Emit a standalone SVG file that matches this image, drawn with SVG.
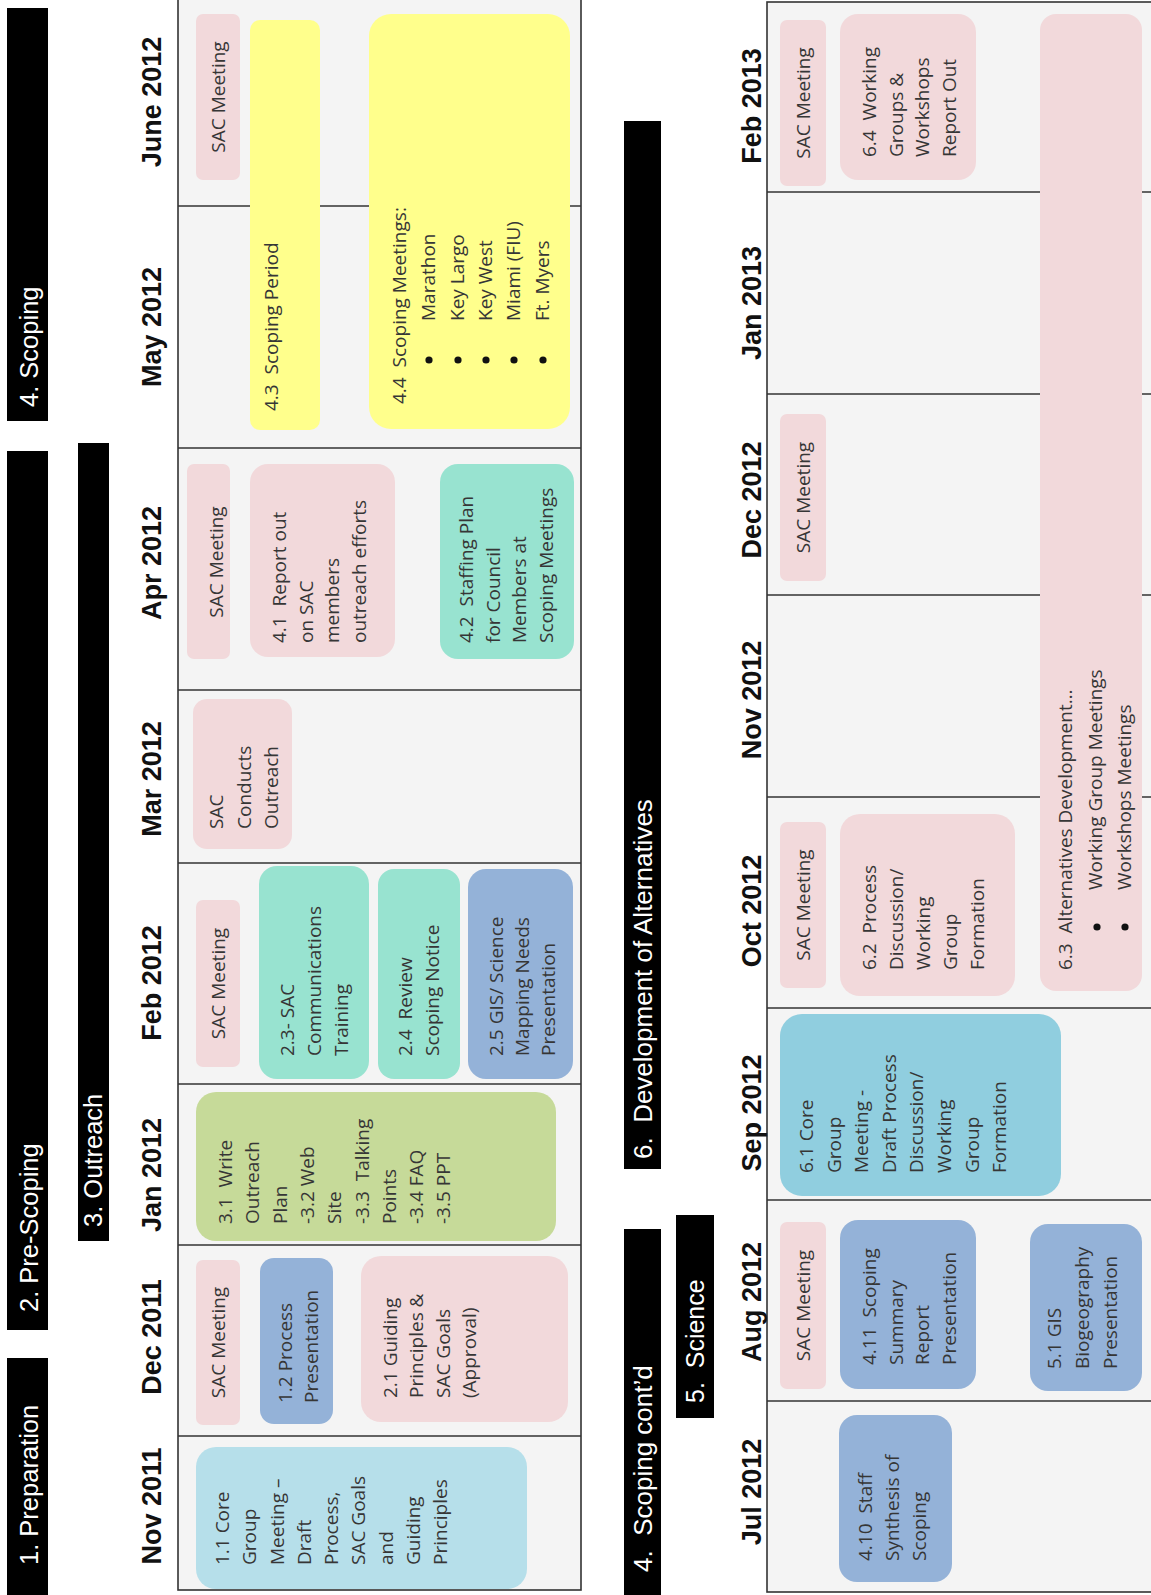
<svg xmlns="http://www.w3.org/2000/svg" width="1151" height="1595" viewBox="0 0 1151 1595">
<defs>
<style>
.cell{fill:#f4f4f4;stroke:#333;stroke-width:1.6}
.grid{stroke:#333;stroke-width:1.6;fill:none}
.bar{fill:#000}
.bt{font-family:"Liberation Sans",Arial,sans-serif;font-size:25.5px;fill:#fff}
.mo{font-family:"Liberation Sans",Arial,sans-serif;font-weight:bold;font-size:27px;fill:#111;text-anchor:middle}
.t{font-family:"Open Sans","Noto Sans",sans-serif;font-size:19px;fill:#363636}
.c{text-anchor:middle}
.dot{fill:#111}
.pink{fill:#f2d9db}
.yel{fill:#ffff8c}
.mint{fill:#98e3d0}
.olive{fill:#c6da99}
.blue{fill:#94b2d8}
.lblue{fill:#b6dfea}
.teal{fill:#90cedf}
</style>
<clipPath id="clip63" clipPathUnits="userSpaceOnUse"><rect x="600" y="1030" width="990" height="106"/></clipPath>
</defs>
<rect width="1151" height="1595" fill="#fff"/>
<g transform="translate(0,1595) rotate(-90)">
  <g id="tables">
    <rect class="cell" x="5" y="178" width="1591" height="403"/>
    <path class="grid" d="M159 178V581M350 178V581M511 178V581M732 178V581M905 178V581M1147 178V581M1389 178V581"/>
    <rect class="cell" x="3" y="767" width="1590" height="400"/>
    <path class="grid" d="M194 767V1160M395 767V1160M587 767V1160M798 767V1160M1000 767V1160M1201 767V1160M1403 767V1160"/>
  </g>
  <g id="months">
    <text class="mo" x="89" y="161">Nov 2011</text>
    <text class="mo" x="258" y="161">Dec 2011</text>
    <text class="mo" x="420" y="161">Jan 2012</text>
    <text class="mo" x="612" y="161">Feb 2012</text>
    <text class="mo" x="816" y="161">Mar 2012</text>
    <text class="mo" x="1032" y="161">Apr 2012</text>
    <text class="mo" x="1268" y="161">May 2012</text>
    <text class="mo" x="1493" y="161">June 2012</text>
    <text class="mo" x="103" y="761">Jul 2012</text>
    <text class="mo" x="293" y="761">Aug 2012</text>
    <text class="mo" x="482" y="761">Sep 2012</text>
    <text class="mo" x="684" y="761">Oct 2012</text>
    <text class="mo" x="895" y="761">Nov 2012</text>
    <text class="mo" x="1095" y="761">Dec 2012</text>
    <text class="mo" x="1292" y="761">Jan 2013</text>
    <text class="mo" x="1489" y="761">Feb 2013</text>
  </g>
  <g id="phase-1">
    <rect class="bar" x="-2" y="7" width="239" height="41"/>
    <text class="bt" x="30" y="38">1. Preparation</text>
  </g>
  <g id="phase-2">
    <rect class="bar" x="265" y="7" width="879" height="41"/>
    <text class="bt" x="283" y="38">2. Pre-Scoping</text>
  </g>
  <g id="phase-4">
    <rect class="bar" x="1174" y="7" width="413" height="41"/>
    <text class="bt" x="1188" y="38">4. Scoping</text>
  </g>
  <g id="phase-3">
    <rect class="bar" x="354" y="78" width="798" height="31"/>
    <text class="bt" x="368" y="102">3. Outreach</text>
  </g>
  <g id="phase-6">
    <rect class="bar" x="426" y="624" width="1048" height="37"/>
    <text class="bt" x="436" y="652" style="font-size:26px">6.&#160; Development of Alternatives</text>
  </g>
  <g id="phase-4b">
    <rect class="bar" x="-2" y="624" width="368" height="37"/>
    <text class="bt" x="23" y="652" style="font-size:26px">4.&#160; Scoping cont’d</text>
  </g>
  <g id="phase-5">
    <rect class="bar" x="177" y="676" width="203" height="38"/>
    <text class="bt" x="192" y="704" style="font-size:25px">5.&#160; Science</text>
  </g>

  <g id="n-sac-jun">
    <rect class="pink" x="1415" y="196" width="166" height="44" rx="7"/>
    <text class="t c" x="1498" y="225">SAC Meeting</text>
  </g>
  <g id="n-4-3">
    <rect class="yel" x="1165" y="250" width="410" height="70" rx="10"/>
    <text class="t" x="1184" y="278">4.3&#160; Scoping Period</text>
  </g>
  <g id="n-4-4">
    <rect class="yel" x="1166" y="369" width="415" height="201" rx="22"/>
    <text class="t" x="1191" y="406">4.4&#160; Scoping Meetings:</text>
    <circle class="dot" cx="1235" cy="429" r="3.6"/><text class="t" x="1274" y="435">Marathon</text>
    <circle class="dot" cx="1235" cy="458" r="3.6"/><text class="t" x="1274" y="464">Key Largo</text>
    <circle class="dot" cx="1235" cy="486" r="3.6"/><text class="t" x="1274" y="492">Key West</text>
    <circle class="dot" cx="1235" cy="514" r="3.6"/><text class="t" x="1274" y="520">Miami (FIU)</text>
    <circle class="dot" cx="1235" cy="543" r="3.6"/><text class="t" x="1274" y="549">Ft. Myers</text>
  </g>
  <g id="n-sac-apr">
    <rect class="pink" x="936" y="187" width="195" height="43" rx="7"/>
    <text class="t c" x="1033" y="215.5" dy="7">SAC Meeting</text>
  </g>
  <g id="n-4-1">
    <rect class="pink" x="938" y="250" width="193" height="145" rx="18"/>
    <text class="t" y="286"><tspan x="952">4.1&#160; Report out</tspan><tspan x="952" dy="26.5">on SAC</tspan><tspan x="952" dy="26.5">members</tspan><tspan x="952" dy="26.5">outreach efforts</tspan></text>
  </g>
  <g id="n-4-2">
    <rect class="mint" x="936" y="440" width="195" height="134" rx="18"/>
    <text class="t" y="473"><tspan x="952">4.2&#160; Staffing Plan</tspan><tspan x="952" dy="26.7">for Council</tspan><tspan x="952" dy="26.7">Members at</tspan><tspan x="952" dy="26.7">Scoping Meetings</tspan></text>
  </g>
  <g id="n-sac-mar">
    <rect class="pink" x="746" y="193" width="150" height="99" rx="14"/>
    <text class="t" y="223"><tspan x="766">SAC</tspan><tspan x="766" dy="27.5">Conducts</tspan><tspan x="766" dy="27.5">Outreach</tspan></text>
  </g>
  <g id="n-sac-feb">
    <rect class="pink" x="528" y="196" width="167" height="44" rx="7"/>
    <text class="t c" x="611.5" y="225">SAC Meeting</text>
  </g>
  <g id="n-2-3">
    <rect class="mint" x="516" y="259" width="213" height="110" rx="18"/>
    <text class="t" y="294"><tspan x="539">2.3- SAC</tspan><tspan x="539" dy="27">Communications</tspan><tspan x="539" dy="27">Training</tspan></text>
  </g>
  <g id="n-2-4">
    <rect class="mint" x="516" y="378" width="210" height="82" rx="16"/>
    <text class="t" y="412"><tspan x="539">2.4&#160; Review</tspan><tspan x="539" dy="27">Scoping Notice</tspan></text>
  </g>
  <g id="n-2-5">
    <rect class="blue" x="516" y="468" width="210" height="105" rx="18"/>
    <text class="t" y="503"><tspan x="539">2.5 GIS/ Science</tspan><tspan x="539" dy="26">Mapping Needs</tspan><tspan x="539" dy="26">Presentation</tspan></text>
  </g>
  <g id="n-3-1">
    <rect class="olive" x="354" y="196" width="149" height="360" rx="20"/>
    <text class="t" y="232"><tspan x="371">3.1&#160; Write</tspan><tspan x="371" dy="27.3">Outreach</tspan><tspan x="371" dy="27.3">Plan</tspan><tspan x="371" dy="27.3">-3.2 Web</tspan><tspan x="371" dy="27.3">Site</tspan><tspan x="371" dy="27.3">-3.3&#160; Talking</tspan><tspan x="371" dy="27.3">Points</tspan><tspan x="371" dy="27.3">-3.4 FAQ</tspan><tspan x="371" dy="27.3">-3.5 PPT</tspan></text>
  </g>
  <g id="n-sac-dec">
    <rect class="pink" x="170" y="196" width="165" height="44" rx="7"/>
    <text class="t c" x="252.5" y="225">SAC Meeting</text>
  </g>
  <g id="n-1-2">
    <rect class="blue" x="171" y="260" width="166" height="73" rx="14"/>
    <text class="t" y="292"><tspan x="192">1.2 Process</tspan><tspan x="192" dy="26">Presentation</tspan></text>
  </g>
  <g id="n-2-1">
    <rect class="pink" x="173" y="361" width="166" height="207" rx="20"/>
    <text class="t" y="397"><tspan x="197">2.1 Guiding</tspan><tspan x="197" dy="26.3">Principles &amp;</tspan><tspan x="197" dy="26.3">SAC Goals</tspan><tspan x="197" dy="26.3">(Approval)</tspan></text>
  </g>
  <g id="n-1-1">
    <rect class="lblue" x="6" y="196" width="142" height="331" rx="20"/>
    <text class="t" y="229"><tspan x="30">1.1 Core</tspan><tspan x="30" dy="27.25">Group</tspan><tspan x="30" dy="27.25">Meeting –</tspan><tspan x="30" dy="27.25">Draft</tspan><tspan x="30" dy="27.25">Process,</tspan><tspan x="30" dy="27.25">SAC Goals</tspan><tspan x="30" dy="27.25">and</tspan><tspan x="30" dy="27.25">Guiding</tspan><tspan x="30" dy="27.25">Principles</tspan></text>
  </g>

  <g id="n-sac-feb13">
    <rect class="pink" x="1409" y="780" width="166" height="46" rx="7"/>
    <text class="t c" x="1492" y="810">SAC Meeting</text>
  </g>
  <g id="n-6-4">
    <rect class="pink" x="1415" y="840" width="166" height="136" rx="18"/>
    <text class="t" y="876"><tspan x="1438">6.4&#160; Working</tspan><tspan x="1438" dy="26.7">Groups &amp;</tspan><tspan x="1438" dy="26.7">Workshops</tspan><tspan x="1438" dy="26.7">Report Out</tspan></text>
  </g>
  <g id="n-6-3">
    <rect class="pink" x="604" y="1040" width="977" height="102" rx="16"/>
    <text class="t" x="625" y="1072">6.3&#160; Alternatives Development…</text>
    <circle class="dot" cx="668" cy="1097" r="3.6"/><text class="t" x="705" y="1102">Working Group Meetings</text>
    <circle class="dot" cx="668" cy="1125" r="3.6"/><text class="t" x="705" y="1131" clip-path="url(#clip63)">Workshops Meetings</text>
  </g>
  <g id="n-sac-dec12">
    <rect class="pink" x="1014" y="780" width="167" height="46" rx="7"/>
    <text class="t c" x="1097.5" y="810">SAC Meeting</text>
  </g>
  <g id="n-sac-oct">
    <rect class="pink" x="607" y="780" width="166" height="46" rx="7"/>
    <text class="t c" x="690" y="810">SAC Meeting</text>
  </g>
  <g id="n-6-2">
    <rect class="pink" x="599" y="840" width="182" height="175" rx="20"/>
    <text class="t" y="876"><tspan x="625">6.2&#160; Process</tspan><tspan x="625" dy="27">Discussion/</tspan><tspan x="625" dy="27">Working</tspan><tspan x="625" dy="27">Group</tspan><tspan x="625" dy="27">Formation</tspan></text>
  </g>
  <g id="n-6-1">
    <rect class="teal" x="399" y="780" width="182" height="281" rx="22"/>
    <text class="t" y="813"><tspan x="422">6.1 Core</tspan><tspan x="422" dy="27.6">Group</tspan><tspan x="422" dy="27.6">Meeting -</tspan><tspan x="422" dy="27.6">Draft Process</tspan><tspan x="422" dy="27.6">Discussion/</tspan><tspan x="422" dy="27.6">Working</tspan><tspan x="422" dy="27.6">Group</tspan><tspan x="422" dy="27.6">Formation</tspan></text>
  </g>
  <g id="n-sac-aug">
    <rect class="pink" x="206" y="780" width="167" height="46" rx="7"/>
    <text class="t c" x="289.5" y="810">SAC Meeting</text>
  </g>
  <g id="n-4-11">
    <rect class="blue" x="206" y="840" width="169" height="136" rx="18"/>
    <text class="t" y="876"><tspan x="230">4.11&#160; Scoping</tspan><tspan x="230" dy="26.7">Summary</tspan><tspan x="230" dy="26.7">Report</tspan><tspan x="230" dy="26.7">Presentation</tspan></text>
  </g>
  <g id="n-5-1">
    <rect class="blue" x="204" y="1030" width="167" height="112" rx="18"/>
    <text class="t" y="1061"><tspan x="226">5.1 GIS</tspan><tspan x="226" dy="28">Biogeography</tspan><tspan x="226" dy="28">Presentation</tspan></text>
  </g>
  <g id="n-4-10">
    <rect class="blue" x="13" y="839" width="167" height="113" rx="18"/>
    <text class="t" y="872"><tspan x="34">4.10&#160; Staff</tspan><tspan x="34" dy="27">Synthesis of</tspan><tspan x="34" dy="27">Scoping</tspan></text>
  </g>
  <g id="connectors"/>
</g>
</svg>
